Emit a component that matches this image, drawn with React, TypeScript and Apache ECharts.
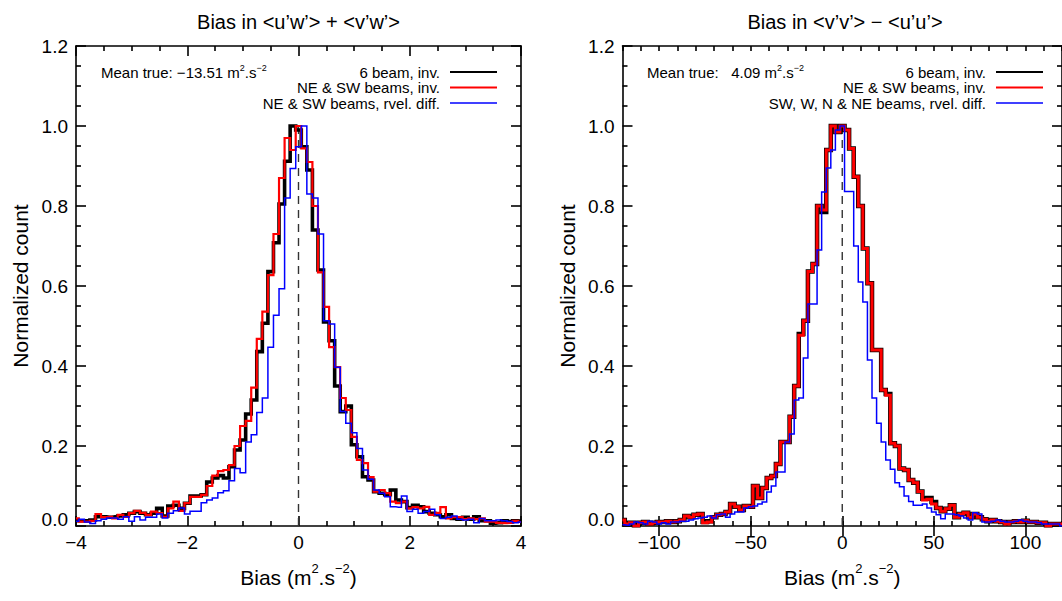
import React, { useEffect, useRef } from 'react';
import * as echarts from 'echarts';

const FONT = '"Liberation Sans", Arial, Helvetica, sans-serif';

// ---------- Left panel: Bias in <u'w'> + <v'w'> (bin centres from -4 to 4, width 0.1)
const LEFT_BIN_START = -4.0;
const LEFT_BIN_WIDTH = 0.1;
const leftSixBeam = [
  0.013, 0.013, 0.013, 0.015, 0.023, 0.023, 0.022, 0.023, 0.025, 0.028,
  0.032, 0.036, 0.032, 0.028, 0.032, 0.044, 0.025, 0.05, 0.052, 0.044,
  0.057, 0.075, 0.075, 0.078, 0.11, 0.12, 0.126, 0.12, 0.148, 0.19,
  0.215, 0.28, 0.315, 0.436, 0.507, 0.636, 0.708, 0.805, 0.912, 1.0,
  0.99,
  0.948, 0.89, 0.74, 0.64, 0.51, 0.463, 0.35, 0.286, 0.3, 0.203,
  0.173, 0.123, 0.115, 0.086, 0.082, 0.078, 0.09, 0.065, 0.061, 0.046,
  0.052, 0.048, 0.036, 0.032, 0.028, 0.023, 0.028, 0.019, 0.017, 0.022,
  0.017, 0.023, 0.013, 0.013, 0.007, 0.008, 0.013, 0.011, 0.013, 0.012,
];
const leftNeSwInv = [
  0.019, 0.011, 0.011, 0.013, 0.03, 0.022, 0.023, 0.019, 0.028, 0.023,
  0.032, 0.038, 0.033, 0.028, 0.036, 0.032, 0.023, 0.044, 0.061, 0.038,
  0.057, 0.073, 0.073, 0.078, 0.1, 0.126, 0.137, 0.14, 0.152, 0.2,
  0.25, 0.263, 0.346, 0.468, 0.536, 0.627, 0.73, 0.87, 0.97, 0.94,
  1.0,
  0.944, 0.91, 0.8, 0.634, 0.548, 0.447, 0.397, 0.32, 0.29, 0.223,
  0.165, 0.157, 0.122, 0.086, 0.09, 0.082, 0.061, 0.057, 0.061, 0.044,
  0.047, 0.044, 0.048, 0.028, 0.033, 0.047, 0.019, 0.022, 0.022, 0.017,
  0.019, 0.017, 0.019, 0.011, 0.011, 0.008, 0.007, 0.008, 0.013, 0.01,
];
const leftNeSwDiff = [
  0.012, 0.017, 0.01, 0.006, 0.013, 0.017, 0.02, 0.02, 0.017, 0.023,
  0.012, 0.023, 0.015, 0.022, 0.022, 0.03, 0.02, 0.032, 0.038, 0.045,
  0.03, 0.037, 0.037, 0.058, 0.065, 0.07, 0.083, 0.088, 0.113, 0.144,
  0.133, 0.21, 0.228, 0.284, 0.32, 0.447, 0.527, 0.593, 0.82, 0.894,
  0.948,
  1.0, 0.83, 0.82, 0.73, 0.513, 0.505, 0.397, 0.286, 0.257, 0.233,
  0.194, 0.14, 0.117, 0.09, 0.082, 0.073, 0.048, 0.047, 0.075, 0.036,
  0.042, 0.032, 0.036, 0.042, 0.028, 0.019, 0.022, 0.025, 0.017, 0.015,
  0.017, 0.008, 0.019, 0.013, 0.013, 0.015, 0.013, 0.011, 0.008, 0.01,
];

// ---------- Right panel: Bias in <v'v'> - <u'u'> (bin centres from -120 to 120, width 2.5)
const RIGHT_BIN_START = -120;
const RIGHT_BIN_WIDTH = 2.5;
const rightSixBeam = [
  0.015, 0.006, 0.008, 0.002, 0.008, 0.01, 0.006, 0.008, 0.01, 0.01,
  0.012, 0.01, 0.012, 0.015, 0.025, 0.022, 0.028, 0.03, 0.01, 0.012,
  0.022, 0.028, 0.03, 0.035, 0.055, 0.048, 0.04, 0.05, 0.048, 0.1,
  0.07, 0.095, 0.12, 0.125, 0.155, 0.21, 0.21, 0.273, 0.35, 0.48,
  0.513, 0.636, 0.655, 0.8, 0.785, 0.94, 1.0, 0.985,
  1.0,
  0.99, 0.944, 0.873, 0.8, 0.694, 0.607, 0.44, 0.44, 0.34, 0.33,
  0.207, 0.2, 0.144, 0.14, 0.115, 0.108, 0.086, 0.068, 0.07, 0.06,
  0.045, 0.037, 0.043, 0.052, 0.022, 0.03, 0.033, 0.022, 0.03, 0.022,
  0.017, 0.012, 0.015, 0.012, 0.01, 0.007, 0.01, 0.012, 0.01, 0.013,
  0.01, 0.01, 0.008, 0.008, 0.002, 0.005, 0.005, 0.005,
];
const rightNeSwInv = [
  0.015, 0.005, 0.008, 0.0, 0.008, 0.01, 0.005, 0.008, 0.01, 0.01,
  0.012, 0.01, 0.012, 0.015, 0.025, 0.022, 0.028, 0.03, 0.008, 0.01,
  0.022, 0.028, 0.03, 0.035, 0.055, 0.048, 0.04, 0.05, 0.048, 0.1,
  0.07, 0.095, 0.12, 0.125, 0.155, 0.21, 0.21, 0.273, 0.35, 0.477,
  0.513, 0.636, 0.655, 0.8, 0.79, 0.94, 1.0, 0.985,
  1.0,
  0.99, 0.944, 0.873, 0.8, 0.694, 0.607, 0.44, 0.44, 0.34, 0.327,
  0.207, 0.2, 0.144, 0.14, 0.115, 0.108, 0.086, 0.065, 0.067, 0.055,
  0.045, 0.037, 0.043, 0.052, 0.022, 0.03, 0.033, 0.022, 0.03, 0.022,
  0.017, 0.012, 0.015, 0.012, 0.01, 0.005, 0.01, 0.012, 0.01, 0.013,
  0.01, 0.01, 0.008, 0.008, 0.0, 0.005, 0.005, 0.005,
];
const rightFourBeamDiff = [
  0.003, 0.002, 0.005, 0.01, 0.008, 0.005, 0.012, 0.01, 0.005, 0.008,
  0.005, 0.01, 0.01, 0.012, 0.012, 0.015, 0.018, 0.02, 0.022, 0.025,
  0.02, 0.028, 0.03, 0.022, 0.03, 0.035, 0.035, 0.045, 0.048, 0.05,
  0.055, 0.06, 0.085, 0.1, 0.135, 0.135, 0.21, 0.23, 0.315, 0.32,
  0.42, 0.555, 0.555, 0.69, 0.835, 0.895, 0.94, 0.99,
  1.0,
  0.836, 0.836, 0.7, 0.61, 0.56, 0.415, 0.32, 0.257, 0.21, 0.165,
  0.142, 0.108, 0.098, 0.075, 0.061, 0.052, 0.052, 0.055, 0.045, 0.035,
  0.028, 0.018, 0.03, 0.03, 0.028, 0.025, 0.02, 0.015, 0.033, 0.03,
  0.01, 0.01, 0.012, 0.015, 0.012, 0.01, 0.01, 0.012, 0.015, 0.012,
  0.01, 0.01, 0.008, 0.005, 0.005, 0.005, 0.005, 0.0,
];

const leftXTicks = [-4, -2, 0, 2, 4];
const rightXTicks = [-100, -50, 0, 50, 100];
const yTickStep = 0.2;

const leftTitle = 'Bias in <u\u2019w\u2019> + <v\u2019w\u2019>';
const rightTitle = 'Bias in <v\u2019v\u2019> \u2212 <u\u2019u\u2019>';
const leftMean = '\u221213.51';
const rightMean = '  4.09';
const leftNames = ['6 beam, inv.', 'NE & SW beams, inv.', 'NE & SW beams, rvel. diff.'];
const rightNames = ['6 beam, inv.', 'NE & SW beams, inv.', 'SW, W, N & NE beams, rvel. diff.'];
const seriesColors = ['#000000', '#ff0000', '#0000ff'];

// layout
const G_TOP = 46;
const G_H = 480;
const G_W = 445;
const LEFT_X = 76;
const RIGHT_X = 622.5;

function pairs(start: number, width: number, vals: number[]) {
  return vals.map((v, i) => [Math.round((start + i * width) * 1000) / 1000, v]);
}
const fmtX = (v: number) => (v < 0 ? '\u2212' + String(-v) : String(v));

function axisCommon() {
  return {
    axisLine: { show: true, onZero: false, lineStyle: { color: '#000', width: 1.6 } },
    splitLine: { show: false },
  };
}

export default function App() {
  const ref = useRef<HTMLDivElement>(null);
  useEffect(() => {
    document.body.style.margin = '0';
    if (!ref.current) return;
    const chart = echarts.init(ref.current, undefined, { renderer: 'svg' });

    const tickStyle = { color: '#000', width: 1.6 };
    const labelStyle = { color: '#000', fontSize: 19, fontFamily: FONT };
    const nameRich = {
      b: { fontSize: 21, fontFamily: FONT, color: '#000', lineHeight: 30 },
      s: { fontSize: 13, fontFamily: FONT, color: '#000', verticalAlign: 'top', lineHeight: 14 },
    };
    const xName = '{b|Bias (m}{s|2}{b|.s}{s|\u22122}{b|)}';

    const xAxes: any[] = [
      // 0: left bottom
      {
        ...axisCommon(), gridIndex: 0, type: 'value', min: -4, max: 4, interval: 2, position: 'bottom',
        axisTick: { show: true, inside: true, length: 10, lineStyle: tickStyle },
        minorTick: { show: true, splitNumber: 4, length: 5, lineStyle: tickStyle },
        axisLabel: { ...labelStyle, margin: 7, formatter: (v: number) => (leftXTicks.includes(v) ? fmtX(v) : '') },
        name: xName, nameLocation: 'middle', nameGap: 36, nameTextStyle: { rich: nameRich },
      },
      // 1: left top
      {
        ...axisCommon(), gridIndex: 0, type: 'value', min: -4, max: 4, interval: 2, position: 'top',
        axisTick: { show: true, inside: true, length: 10, lineStyle: tickStyle },
        minorTick: { show: true, splitNumber: 4, length: 5, lineStyle: tickStyle },
        axisLabel: { show: false },
      },
      // 2: right bottom (minor ticks every 10, labels at the major values)
      {
        ...axisCommon(), gridIndex: 1, type: 'value', min: -120, max: 120, interval: 10, position: 'bottom',
        axisTick: { show: true, inside: true, length: 5, lineStyle: tickStyle },
        axisLabel: { ...labelStyle, margin: 7, customValues: rightXTicks, formatter: (v: number) => fmtX(v) },
        name: xName, nameLocation: 'middle', nameGap: 36, nameTextStyle: { rich: nameRich },
      },
      // 3: right bottom major ticks
      {
        gridIndex: 1, type: 'value', min: -120, max: 120, interval: 10, position: 'bottom',
        axisLine: { show: false }, splitLine: { show: false },
        axisTick: { show: true, inside: true, length: 10, lineStyle: tickStyle, customValues: rightXTicks },
        axisLabel: { show: false },
      },
      // 4: right top minor
      {
        ...axisCommon(), gridIndex: 1, type: 'value', min: -120, max: 120, interval: 10, position: 'top',
        axisTick: { show: true, inside: true, length: 5, lineStyle: tickStyle },
        axisLabel: { show: false },
      },
      // 5: right top major
      {
        gridIndex: 1, type: 'value', min: -120, max: 120, interval: 10, position: 'top',
        axisLine: { show: false }, splitLine: { show: false },
        axisTick: { show: true, inside: true, length: 10, lineStyle: tickStyle, customValues: rightXTicks },
        axisLabel: { show: false },
      },
    ];

    const yAxis = (grid: number, pos: string, labels: boolean) => ({
      ...axisCommon(), gridIndex: grid, type: 'value', min: 0, max: 1.2, interval: yTickStep, position: pos,
      axisTick: { show: true, inside: true, length: 10, lineStyle: tickStyle },
      minorTick: { show: true, splitNumber: 4, length: 5, lineStyle: tickStyle },
      axisLabel: labels
        ? {
            ...labelStyle, margin: 8,
            formatter: (v: number) => (v === 0 ? '{z|' + v.toFixed(1) + '}' : v.toFixed(1)),
            rich: { z: { fontSize: 19, fontFamily: FONT, color: '#000', padding: [0, 0, 13, 0] } },
          }
        : { show: false },
      ...(labels
        ? {
            name: 'Normalized count', nameLocation: 'middle', nameGap: 45, nameRotate: 90,
            nameTextStyle: { fontSize: 21, fontFamily: FONT, color: '#000' },
          }
        : {}),
    });
    const yAxes = [yAxis(0, 'left', true), yAxis(0, 'right', false), yAxis(1, 'left', true), yAxis(1, 'right', false)];

    const zeroLine = (xi: number, yi: number) => ({
      type: 'line', xAxisIndex: xi, yAxisIndex: yi, data: [[0, 0], [0, 1]], symbol: 'none', silent: true,
      lineStyle: { color: '#333', width: 1.4, type: [8, 6] }, z: 1,
    });
    const hist = (name: string, xi: number, yi: number, start: number, width: number, vals: number[], color: string, w: number, z: number) => ({
      name, type: 'line', step: 'middle', xAxisIndex: xi, yAxisIndex: yi, data: pairs(start, width, vals),
      symbol: 'none', silent: true, lineStyle: { color, width: w, join: 'miter' }, z,
    });

    const legendGraphics = (names: string[], lineX0: number, lineX1: number, meanX: number, mean: string) => {
      const rows = [72, 87.5, 103];
      const els: any[] = [];
      names.forEach((n, i) => {
        els.push({
          type: 'text', x: lineX0 - 10, y: rows[i],
          style: { text: n, fill: '#000', font: `15px ${FONT}`, align: 'right', verticalAlign: 'middle' },
        });
        els.push({
          type: 'line', shape: { x1: lineX0, y1: rows[i], x2: lineX1, y2: rows[i] },
          style: { stroke: seriesColors[i], lineWidth: i === 2 ? 1.5 : 2.2 },
        });
      });
      els.push({
        type: 'text', x: meanX, y: rows[0],
        style: {
          text: `{a|Mean true: ${mean} m}{s|2}{a|.s}{s|\u22122}`,
          rich: {
            a: { fontSize: 15, fontFamily: FONT, fill: '#000', lineHeight: 17 },
            s: { fontSize: 9, fontFamily: FONT, fill: '#000', verticalAlign: 'top', lineHeight: 10 },
          },
          verticalAlign: 'middle',
        },
      });
      return els;
    };

    const option: any = {
      animation: false,
      backgroundColor: '#fff',
      grid: [
        { left: LEFT_X, top: G_TOP, width: G_W, height: G_H, containLabel: false },
        { left: RIGHT_X, top: G_TOP, width: G_W, height: G_H, containLabel: false },
      ],
      xAxis: xAxes,
      yAxis: yAxes,
      series: [
        zeroLine(0, 0),
        hist(leftNames[0], 0, 0, LEFT_BIN_START, LEFT_BIN_WIDTH, leftSixBeam, seriesColors[0], 3.6, 2),
        hist(leftNames[1], 0, 0, LEFT_BIN_START, LEFT_BIN_WIDTH, leftNeSwInv, seriesColors[1], 2.2, 3),
        hist(leftNames[2], 0, 0, LEFT_BIN_START, LEFT_BIN_WIDTH, leftNeSwDiff, seriesColors[2], 1.5, 4),
        zeroLine(2, 2),
        hist(rightNames[0], 2, 2, RIGHT_BIN_START, RIGHT_BIN_WIDTH, rightSixBeam, seriesColors[0], 4.5, 2),
        hist(rightNames[1], 2, 2, RIGHT_BIN_START, RIGHT_BIN_WIDTH, rightNeSwInv, seriesColors[1], 3.0, 3),
        hist(rightNames[2], 2, 2, RIGHT_BIN_START, RIGHT_BIN_WIDTH, rightFourBeamDiff, seriesColors[2], 1.5, 4),
      ],
      graphic: [
        {
          type: 'text', x: LEFT_X + G_W / 2, y: 22,
          style: { text: leftTitle, fill: '#000', font: `20px ${FONT}`, align: 'center', verticalAlign: 'middle' },
        },
        {
          type: 'text', x: RIGHT_X + G_W / 2, y: 22,
          style: { text: rightTitle, fill: '#000', font: `20px ${FONT}`, align: 'center', verticalAlign: 'middle' },
        },
        ...legendGraphics(leftNames, 450, 497, 101, leftMean),
        ...legendGraphics(rightNames, 996, 1043, 647, rightMean),
      ],
    };
    chart.setOption(option);
    return () => chart.dispose();
  }, []);
  return <div ref={ref} style={{ width: 1062, height: 601 }} />;
}
